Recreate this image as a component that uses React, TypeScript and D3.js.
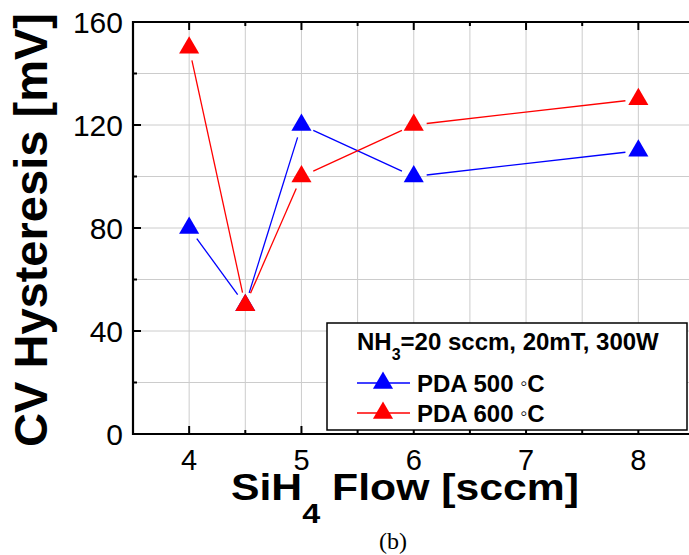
import * as d3 from "d3"

const flow = [4, 4.5, 5, 6, 8]
const pda500 = [80, 50, 120, 100, 110]
const pda600 = [150, 50, 100, 120, 130]
const xTicks = [4, 5, 6, 7, 8]
const yTicks = [0, 40, 80, 120, 160]

const W = 689
const H = 555
const left = 133
const top = 22
const bottom = 434

const x = d3.scaleLinear().domain([3.5, 8.5]).range([left, 694.5])
const y = d3.scaleLinear().domain([0, 160]).range([bottom, top])
const tri = d3.symbol(d3.symbolTriangle, 175)()

// segments between markers, trimmed so the line stops short of each marker
function segments(vals: number[], gap = 13) {
  const pts = flow.map((f, i) => [x(f), y(vals[i])])
  const out: string[] = []
  for (let i = 0; i < pts.length - 1; i++) {
    const [x0, y0] = pts[i]
    const [x1, y1] = pts[i + 1]
    const len = Math.hypot(x1 - x0, y1 - y0)
    const ux = (x1 - x0) / len
    const uy = (y1 - y0) / len
    out.push(d3.line()([[x0 + ux * gap, y0 + uy * gap], [x1 - ux * gap, y1 - uy * gap]]) as string)
  }
  return out
}

const series = [
  { name: "PDA 500 ", vals: pda500, color: "#0000ff" },
  { name: "PDA 600 ", vals: pda600, color: "#ff0000" },
]

export default function App() {
  const xGrid = d3.range(4, 8.01, 0.5)
  const yGrid = d3.range(20, 160, 20)
  const font = "Arial, 'Liberation Sans', sans-serif"
  return (
    <svg width={W} height={H} style={{ position: "absolute", left: 0, top: 0, background: "#fff" }} fontFamily={font}>
      {/* grid */}
      {xGrid.map((v) => (
        <line key={"gx" + v} x1={x(v)} x2={x(v)} y1={top} y2={bottom} stroke="#cccccc" strokeWidth={1} />
      ))}
      {yGrid.map((v) => (
        <line key={"gy" + v} x1={left} x2={W} y1={y(v)} y2={y(v)} stroke="#cccccc" strokeWidth={1} />
      ))}

      {/* ticks */}
      {xGrid.map((v) => {
        const len = Number.isInteger(v) ? 8 : 4
        return (
          <g key={"tx" + v}>
            <line x1={x(v)} x2={x(v)} y1={bottom} y2={bottom - len} stroke="#000" strokeWidth={2} />
            <line x1={x(v)} x2={x(v)} y1={top} y2={top + len} stroke="#000" strokeWidth={2} />
          </g>
        )
      })}
      {d3.range(20, 160, 20).map((v) => {
        const len = v % 40 === 0 ? 8 : 4
        return <line key={"ty" + v} x1={left} x2={left + len} y1={y(v)} y2={y(v)} stroke="#000" strokeWidth={2} />
      })}

      {/* frame */}
      <line x1={left} x2={W} y1={bottom} y2={bottom} stroke="#000" strokeWidth={2.2} />
      <line x1={left} x2={W} y1={top} y2={top} stroke="#000" strokeWidth={2.2} />
      <line x1={left} x2={left} y1={top - 1} y2={bottom + 1} stroke="#000" strokeWidth={2.2} />

      {/* tick labels */}
      {xTicks.map((v) => (
        <text key={"lx" + v} x={x(v)} y={470} textAnchor="middle" fontSize={29}>{v}</text>
      ))}
      {yTicks.map((v) => (
        <text key={"ly" + v} x={123} y={y(v) + 11} textAnchor="end" fontSize={30}>{v}</text>
      ))}

      {/* axis titles */}
      <text x={231} y={500} fontSize={37} fontWeight="bold" textLength={348} lengthAdjust="spacingAndGlyphs">
        SiH<tspan fontSize={28} dy={23}>4</tspan><tspan dy={-23}> Flow [sccm]</tspan>
      </text>
      <text transform="translate(47,447) rotate(-90)" fontSize={46} fontWeight="bold" textLength={434} lengthAdjust="spacingAndGlyphs">
        CV Hysteresis [mV]
      </text>

      {/* data */}
      {series.map((s) => (
        <g key={s.name}>
          {segments(s.vals).map((d, i) => (
            <path key={i} d={d} stroke={s.color} strokeWidth={1.3} fill="none" />
          ))}
          {s.vals.map((v, i) => (
            <path key={"m" + i} d={tri as string} transform={`translate(${x(flow[i])},${y(v)})`} fill={s.color} />
          ))}
        </g>
      ))}

      {/* legend */}
      <rect x={327} y={323} width={360} height={107} fill="#fff" stroke="#000" strokeWidth={1.5} />
      <text x={357} y={350} fontSize={24} fontWeight="bold">
        NH<tspan fontSize={16} dy={10}>3</tspan><tspan dy={-10}>=20 sccm, 20mT, 300W</tspan>
      </text>
      {series.map((s, i) => {
        const ly = 383 + i * 30
        return (
          <g key={"lg" + i}>
            <line x1={357} x2={410} y1={ly} y2={ly} stroke={s.color} strokeWidth={1.3} />
            <path d={tri as string} transform={`translate(383,${ly})`} fill={s.color} />
            <text x={417} y={ly + 9} fontSize={24} fontWeight="bold">
              {s.name}<tspan fontWeight="normal" fontSize={20} dy={-2}>◦</tspan><tspan dy={2}>C</tspan>
            </text>
          </g>
        )
      })}

      {/* caption */}
      <text x={393} y={549} textAnchor="middle" fontSize={24} fontFamily="'Liberation Serif', 'Times New Roman', serif">(b)</text>
    </svg>
  )
}
